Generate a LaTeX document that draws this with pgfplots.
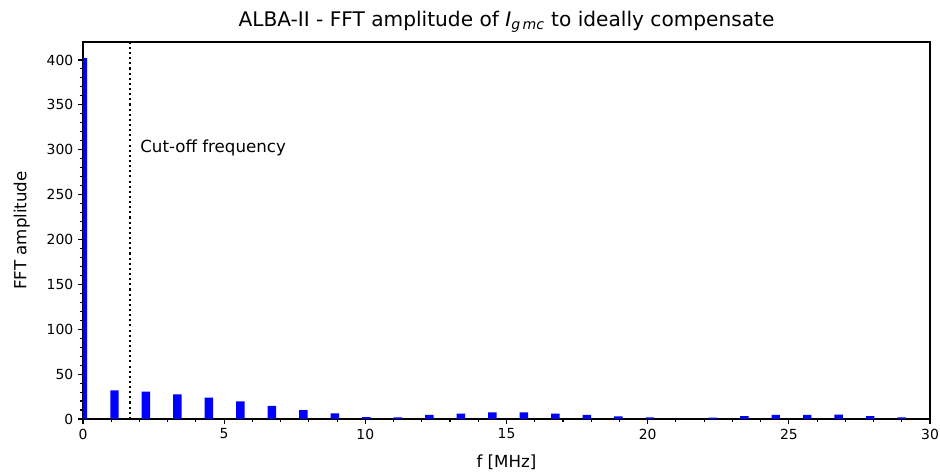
\documentclass[border=0pt]{standalone}
\usepackage{fontspec}
\setmainfont{DejaVu Sans}
\usepackage{pgfplots}
\usepackage{pgfplotstable}
\pgfplotsset{compat=1.18}

% Harmonic amplitudes (f in MHz, revolution harmonics)
\pgfplotstableread{
f        amp
0        402
1.1153   32.0
2.2306   30.4
3.3459   27.5
4.4612   23.8
5.5765   19.7
6.6918   14.5
7.8071   10.0
8.9224   6.3
10.0377  2.2
11.1530  1.7
12.2683  4.5
13.3836  6.0
14.4989  7.4
15.6142  7.4
16.7295  6.0
17.8448  4.5
18.9601  3.0
20.0754  1.9
21.1907  0.2
22.3060  1.5
23.4213  3.3
24.5366  4.5
25.6519  4.5
26.7672  4.8
27.8825  3.3
28.9978  1.7
}\fftdata

\begin{document}
\begin{tikzpicture}[x=1pt,y=1pt]
\useasboundingbox (-59.76,-40.32) rectangle (617.04,301.68);
\begin{axis}[
  name=ax,
  at={(0,0)}, anchor=south west,
  scale only axis,
  width=609.84pt, height=271.44pt,
  xmin=0, xmax=30, ymin=0, ymax=420,
  xtick={0,5,...,30}, ytick={0,50,...,400},
  minor x tick num=4, minor y tick num=4,
  tick pos=left, tick align=outside,
  major tick length=3.5pt, minor tick length=2pt,
  every tick/.style={black, line width=0.8pt},
  axis line style={black, line width=0.8pt},
  /pgf/number format/assume math mode=true,
  tick label style={font=\fontsize{10}{12}\selectfont, text=black},
  xlabel={f [MHz]},
  xlabel style={at={(axis description cs:0.5,-0.114)}, anchor=center, font=\fontsize{12}{14}\selectfont},
  ylabel={FFT amplitude},
  ylabel style={at={(axis description cs:-0.0722,0.5)}, anchor=center, font=\fontsize{12}{14}\selectfont},
]
\addplot[ybar, bar width=0.3, bar shift=0pt, fill=blue, draw=none] table[x=f, y=amp] {\fftdata};
\addplot[black, line width=1.5pt, dash pattern=on 1.5pt off 2.2pt] coordinates {(1.66,0) (1.66,420)};
\node[anchor=west, inner sep=0pt, font=\fontsize{12}{14}\selectfont] at (axis cs:2.02,302) {Cut-off frequency};
\end{axis}
% plot title
\node[anchor=base, inner sep=0pt, font=\fontsize{14.5}{17}\selectfont]
  at ([yshift=11pt]ax.north) {ALBA-II - FFT amplitude of {\itshape I\textsubscript{g\,mc}} to ideally compensate};
\end{tikzpicture}
\end{document}
